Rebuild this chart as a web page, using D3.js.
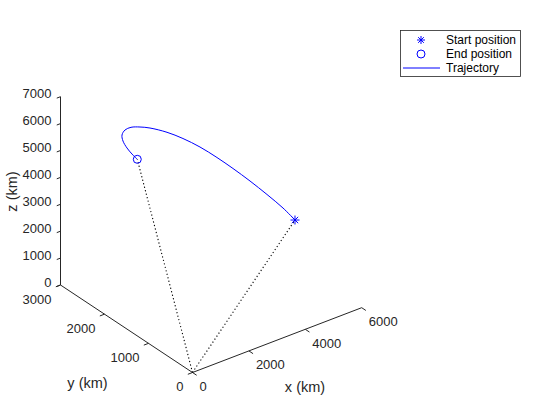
<!DOCTYPE html>
<html>
<head>
<meta charset="utf-8">
<script src="https://cdn.jsdelivr.net/npm/d3@7"></script>
<style>
  html, body { margin: 0; padding: 0; background: #fff; }
  svg { display: block; font-family: "Liberation Sans", Arial, Helvetica, sans-serif; }
</style>
</head>
<body>
<svg id="chart" width="560" height="420"></svg>
<script>
// ---------- data ----------
const xTicks = [0, 2000, 4000, 6000];
const yTicks = [0, 1000, 2000, 3000];
const zTicks = [0, 1000, 2000, 3000, 4000, 5000, 6000, 7000];

const startPos = [5499, 1195, 2165];
const endPos   = [1099, 1959, 5360];

const trajX = [5499, 5266, 4921, 4542, 4150, 3769, 3349, 2902, 2457, 1950, 1633, 1330, 1094, 925, 876, 913, 996, 1099];
const trajY = [1195, 1318, 1461, 1604, 1739, 1859, 1976, 2076, 2154, 2216, 2240, 2250, 2235, 2195, 2141, 2074, 2013, 1959];
const trajZ = [2165, 2571, 3058, 3556, 4032, 4463, 4895, 5282, 5608, 5903, 6042, 6141, 6152, 6077, 5932, 5731, 5539, 5360];

const legendLabels = ["Start position", "End position", "Trajectory"];

// ---------- projection (orthographic 3-D view) ----------
const xS = d3.scaleLinear().domain([0, 6000]).range([0, 1]);
const yS = d3.scaleLinear().domain([0, 3000]).range([0, 1]);
const zS = d3.scaleLinear().domain([0, 7000]).range([0, 1]);
const O  = [192.5, 372.5];
const EX = [169.2, -64.8];
const EY = [-132, -87.5];
const EZ = [0, -188.3];
function proj(x, y, z) {
  const a = xS(x), b = yS(y), c = zS(z);
  return [O[0] + a * EX[0] + b * EY[0] + c * EZ[0],
          O[1] + a * EX[1] + b * EY[1] + c * EZ[1]];
}
function unit(v) { const l = Math.hypot(v[0], v[1]); return [v[0] / l, v[1] / l]; }

const svg = d3.select("#chart");
const axisCol = "#262626";
const tickLen = 5;

const gAx = svg.append("g").attr("stroke", axisCol).attr("stroke-width", 1).attr("fill", "none");

// x axis: along y = 0, z = 0
const xa0 = proj(0, 0, 0), xa1 = proj(6000, 0, 0);
gAx.append("line").attr("x1", xa0[0]).attr("y1", xa0[1]).attr("x2", xa1[0]).attr("y2", xa1[1]);
const xTickDir = unit([-EY[0], -EY[1]]);
xTicks.forEach(t => {
  const p = proj(t, 0, 0);
  gAx.append("line").attr("x1", p[0]).attr("y1", p[1])
    .attr("x2", p[0] + xTickDir[0] * tickLen).attr("y2", p[1] + xTickDir[1] * tickLen);
});
// y axis: along x = 0, z = 0
const ya0 = proj(0, 0, 0), ya1 = proj(0, 3000, 0);
gAx.append("line").attr("x1", ya0[0]).attr("y1", ya0[1]).attr("x2", ya1[0]).attr("y2", ya1[1]);
const yTickDir = unit([-EX[0], -EX[1]]);
yTicks.forEach(t => {
  const p = proj(0, t, 0);
  gAx.append("line").attr("x1", p[0]).attr("y1", p[1])
    .attr("x2", p[0] + yTickDir[0] * tickLen).attr("y2", p[1] + yTickDir[1] * tickLen);
});
// z axis: at x = 0, y = 3000
const za0 = proj(0, 3000, 0), za1 = proj(0, 3000, 7000);
gAx.append("line").attr("x1", za0[0]).attr("y1", za0[1]).attr("x2", za1[0]).attr("y2", za1[1]);
zTicks.forEach(t => {
  const p = proj(0, 3000, t);
  gAx.append("line").attr("x1", p[0]).attr("y1", p[1])
    .attr("x2", p[0] + yTickDir[0] * 4).attr("y2", p[1] + yTickDir[1] * 4);
});

// tick labels
const gT = svg.append("g").attr("fill", axisCol).attr("font-size", 13);
xTicks.forEach(t => {
  const p = proj(t, 0, 0);
  gT.append("text").attr("x", p[0] + 7).attr("y", p[1] + 14).attr("dy", "0.35em")
    .attr("text-anchor", "start").text(t);
});
yTicks.forEach(t => {
  const p = proj(0, t, 0);
  gT.append("text").attr("x", p[0] - 9).attr("y", p[1] + 14).attr("dy", "0.35em")
    .attr("text-anchor", "end").text(t);
});
zTicks.forEach(t => {
  const p = proj(0, 3000, t);
  gT.append("text").attr("x", p[0] - 9).attr("y", p[1] - 3).attr("dy", "0.35em")
    .attr("text-anchor", "end").text(t);
});

// axis labels
const gL = svg.append("g").attr("fill", axisCol).attr("font-size", 14.5);
gL.append("text").attr("x", 305).attr("y", 386.5).attr("dy", "0.35em").attr("text-anchor", "middle").text("x (km)");
gL.append("text").attr("x", 87.5).attr("y", 382.5).attr("dy", "0.35em").attr("text-anchor", "middle").text("y (km)");
gL.append("text").attr("transform", "translate(12,191.5) rotate(-90)").attr("dy", "0.35em")
  .attr("text-anchor", "middle").text("z (km)");

// dotted radius lines
const orig = proj(0, 0, 0);
[startPos, endPos].forEach(pt => {
  const p = proj(pt[0], pt[1], pt[2]);
  svg.append("line").attr("x1", orig[0]).attr("y1", orig[1]).attr("x2", p[0]).attr("y2", p[1])
    .attr("stroke", "#000").attr("stroke-width", 1.1).attr("stroke-dasharray", "1.2,2.4");
});

// trajectory
const trajPts = trajX.map((x, i) => proj(x, trajY[i], trajZ[i]));
svg.append("path").attr("d", d3.line().curve(d3.curveCatmullRom.alpha(0.5))(trajPts))
  .attr("fill", "none").attr("stroke", "#0000ff").attr("stroke-width", 1);

// markers
function asterisk(g, cx, cy, r) {
  const d = r * Math.SQRT1_2;
  const p = d3.path();
  p.moveTo(cx - r, cy); p.lineTo(cx + r, cy);
  p.moveTo(cx, cy - r); p.lineTo(cx, cy + r);
  p.moveTo(cx - d, cy - d); p.lineTo(cx + d, cy + d);
  p.moveTo(cx - d, cy + d); p.lineTo(cx + d, cy - d);
  g.append("path").attr("d", p.toString()).attr("stroke", "#0000ff").attr("stroke-width", 1).attr("fill", "none");
}
const sp = proj(startPos[0], startPos[1], startPos[2]);
asterisk(svg, sp[0], sp[1], 4.5);
const ep = proj(endPos[0], endPos[1], endPos[2]);
svg.append("circle").attr("cx", ep[0]).attr("cy", ep[1]).attr("r", 4)
  .attr("fill", "none").attr("stroke", "#0000ff").attr("stroke-width", 1);

// legend
const lg = svg.append("g");
lg.append("rect").attr("x", 400.5).attr("y", 30.5).attr("width", 120).attr("height", 46)
  .attr("fill", "#fff").attr("stroke", axisCol).attr("stroke-width", 0.8);
const rowY = [40, 54, 68];
asterisk(lg, 421, rowY[0], 4);
lg.append("circle").attr("cx", 421).attr("cy", rowY[1]).attr("r", 4)
  .attr("fill", "none").attr("stroke", "#0000ff").attr("stroke-width", 1);
lg.append("line").attr("x1", 403).attr("x2", 440).attr("y1", rowY[2]).attr("y2", rowY[2])
  .attr("stroke", "#0000ff").attr("stroke-width", 1);
legendLabels.forEach((t, i) => {
  lg.append("text").attr("x", 446).attr("y", rowY[i]).attr("dy", "0.35em")
    .attr("font-size", 12).attr("fill", "#000").text(t);
});
</script>
</body>
</html>
